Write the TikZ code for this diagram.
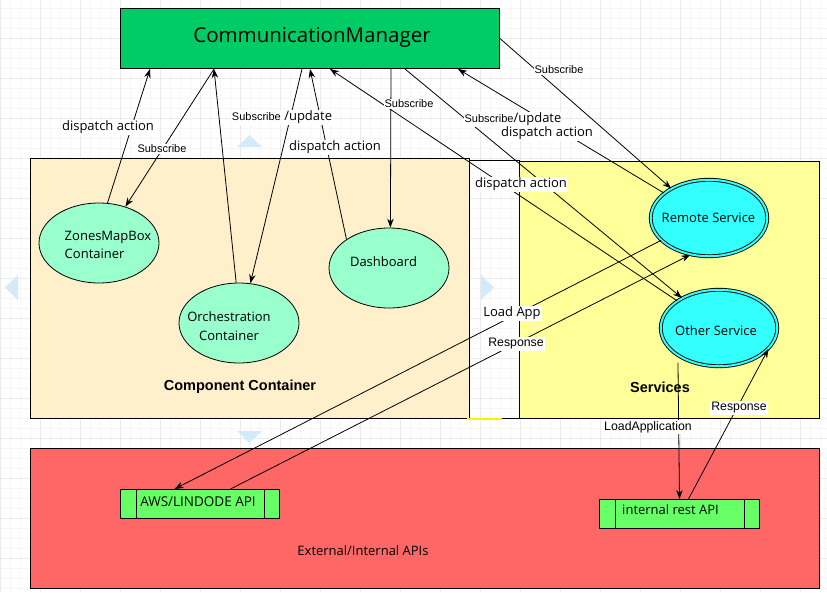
\documentclass[tikz,border=0pt]{standalone}
\usepackage{fontspec}
\setmainfont{Open Sans}
\newfontfamily\arialf{Liberation Sans}
\usetikzlibrary{shapes.geometric,arrows.meta}
\definecolor{cmgreen}{HTML}{00CC66}
\definecolor{compbg}{HTML}{FFF0CC}
\definecolor{svcbg}{HTML}{FFFF99}
\definecolor{apibg}{HTML}{FF6666}
\definecolor{apibox}{HTML}{66FF66}
\definecolor{ellgreen}{HTML}{99FFCC}
\definecolor{svccyan}{HTML}{33FFFF}
\definecolor{handle}{HTML}{D3EBF8}
\definecolor{gridmaj}{HTML}{EAEAEA}
\definecolor{gridmin}{HTML}{F6F6F6}
\begin{document}
\begin{tikzpicture}[x=1pt,y=-1pt,
  box/.style={draw=black, line width=1pt, inner sep=0pt, anchor=north west},
  ell/.style={ellipse, draw=black, line width=0.8pt, fill=ellgreen, minimum width=120pt, minimum height=80pt, inner sep=0pt},
  svcell/.style={ellipse, draw=black, line width=0.9pt, fill=svccyan, double=svccyan, double distance=2pt, minimum width=116.5pt, minimum height=76.5pt, inner sep=0pt},
  conn/.style={draw=black, line width=0.8pt, -{Stealth[length=9pt,width=6.5pt]}},
  txt/.style={font=\fontsize{13}{18}\selectfont, inner sep=0pt},
  lbl/.style={fill=white, inner sep=1pt, font=\fontsize{13}{15}\selectfont},
  slbl/.style={fill=white, inner sep=1pt, font=\arialf\fontsize{11}{13}\selectfont},
  mlbl/.style={fill=white, inner sep=1pt, font=\arialf\fontsize{12.3}{14}\selectfont},
  blbl/.style={inner sep=0pt, font=\arialf\bfseries\fontsize{14.5}{17}\selectfont},
  hdl/.style={fill=handle, draw=none}]
\useasboundingbox (0,0) rectangle (827,592);
\fill[white] (0,0) rectangle (827,592);
% grid
\foreach \x in {0,10,...,820} \draw[gridmin, line width=0.6pt] (\x,0) -- (\x,592);
\foreach \y in {8,18,...,588} \draw[gridmin, line width=0.6pt] (0,\y) -- (827,\y);
\foreach \x in {0,40,...,800} \draw[gridmaj, line width=1pt] (\x,0) -- (\x,592);
\foreach \y in {38,78,...,558} \draw[gridmaj, line width=1pt] (0,\y) -- (827,\y);
% handles
\fill[hdl] (237,147) -- (262,147) -- (249.5,135) -- cycle;
\fill[hdl] (237,431) -- (262,431) -- (249.5,443) -- cycle;
\fill[hdl] (18,275) -- (18,300) -- (5,287.5) -- cycle;
\fill[hdl] (481,275) -- (481,300) -- (494,287.5) -- cycle;
% containers
\node[box, fill=cmgreen, minimum width=379pt, minimum height=60pt] (cm) at (120,8) {};
\node[font=\fontsize{20.5}{24}\selectfont, inner sep=0pt] (cmtxt) at (312,37) {CommunicationManager};
\node[box, fill=compbg, minimum width=439pt, minimum height=260pt] (comp) at (30,158) {};
\node[box, minimum width=50pt, minimum height=258pt] (strip) at (469,160) {};
\node[box, fill=svcbg, minimum width=300pt, minimum height=257pt] (svc) at (519,161) {};
\draw[yellow, line width=1.2pt] (467,419) -- (502,419);
\node[box, fill=apibg, minimum width=789pt, minimum height=140pt] (apis) at (30,448) {};
\node[blbl] (comptxt) at (240,387) {Component Container};
\node[blbl] (svctxt) at (660,387) {Services};
\node[txt] (apistxt) at (363,551) {External/Internal APIs};
% API boxes
\node[box, fill=apibox, minimum width=159pt, minimum height=29pt] (aws) at (120,489) {};
\draw[line width=1pt] ([xshift=16pt]aws.north west) -- ([xshift=16pt]aws.south west);
\draw[line width=1pt] ([xshift=-16pt]aws.north east) -- ([xshift=-16pt]aws.south east);
\node[txt, font=\fontsize{13.5}{16}\selectfont] (awstxt) at (198,502) {AWS/LINDODE API};
\node[box, fill=apibox, minimum width=160pt, minimum height=29pt] (rest) at (599,499) {};
\draw[line width=1pt] ([xshift=16pt]rest.north west) -- ([xshift=16pt]rest.south west);
\draw[line width=1pt] ([xshift=-16pt]rest.north east) -- ([xshift=-16pt]rest.south east);
\node[txt] (resttxt) at (670.5,510) {internal rest API};
% ellipses
\node[ell] (zones) at (99,243) {};
\node[txt, align=left] (zonestxt) at (108,245) {ZonesMapBox\\Container};
\node[ell] (orch) at (239,323) {};
\node[txt, align=center, font=\fontsize{13}{19}\selectfont] (orchtxt) at (229,326.5) {Orchestration\\Container};
\node[ell] (dash) at (389,268) {};
\node[txt] (dashtxt) at (383.5,262) {Dashboard};
\node[svcell] (remote) at (709,218) {};
\node[txt] (remotetxt) at (708.5,218) {Remote Service};
\node[svcell] (other) at (719,328) {};
\node[txt] (othertxt) at (716,331) {Other Service};
% connectors
\draw[conn] (zones.78) -- ([xshift=30pt]cm.south west);
\draw[conn] ([xshift=94pt]cm.south west) -- (zones.54);
\draw[conn] (orch.94) -- ([xshift=94pt]cm.south west);
\draw[conn] ([xshift=182pt]cm.south west) -- (orch.74);
\draw[conn] (dash.146) -- ([xshift=190pt]cm.south west);
\draw[conn] (other.147) -- ([xshift=210pt]cm.south west);
\draw[conn] ([xshift=271pt]cm.south west) -- (dash.88);
\draw[conn] ([xshift=285pt]cm.south west) -- (other.141);
\draw[conn] (remote.151) -- ([xshift=338pt]cm.south west);
\draw[conn] (cm.east) -- (remote.142);
\draw[conn] (remote.205) -- ([xshift=-25.5pt]aws.north);
\draw[conn] ([xshift=30.5pt]aws.north) -- (remote.243);
\draw[conn] ([yshift=-7pt]other.214) -- (rest.north);
\draw[conn] ([xshift=9pt]rest.north) -- (other.337);
% connector labels
\node[lbl] (l1) at (108,127) {dispatch action};
\node[slbl] (l2) at (162,149) {Subscribe};
\node[lbl] (l3) at (282,117) {{\arialf\fontsize{11}{13}\selectfont Subscribe} /update};
\node[lbl] (l4) at (335,147) {dispatch action};
\node[slbl] (l5) at (409,104) {Subscribe};
\node[lbl] (l6) at (513,119) {{\arialf\fontsize{11}{13}\selectfont Subscribe}/update};
\node[lbl] (l7) at (547,133) {dispatch action};
\node[slbl] (l8) at (559,70) {Subscribe};
\node[lbl] (l9) at (521,184) {dispatch action};
\node[lbl] (l10) at (512,313) {Load App};
\node[mlbl] (l11) at (516,344) {Response};
\node[mlbl] (l12) at (648,427) {LoadApplication};
\node[mlbl] (l13) at (739,408) {Response};
\end{tikzpicture}
\end{document}
